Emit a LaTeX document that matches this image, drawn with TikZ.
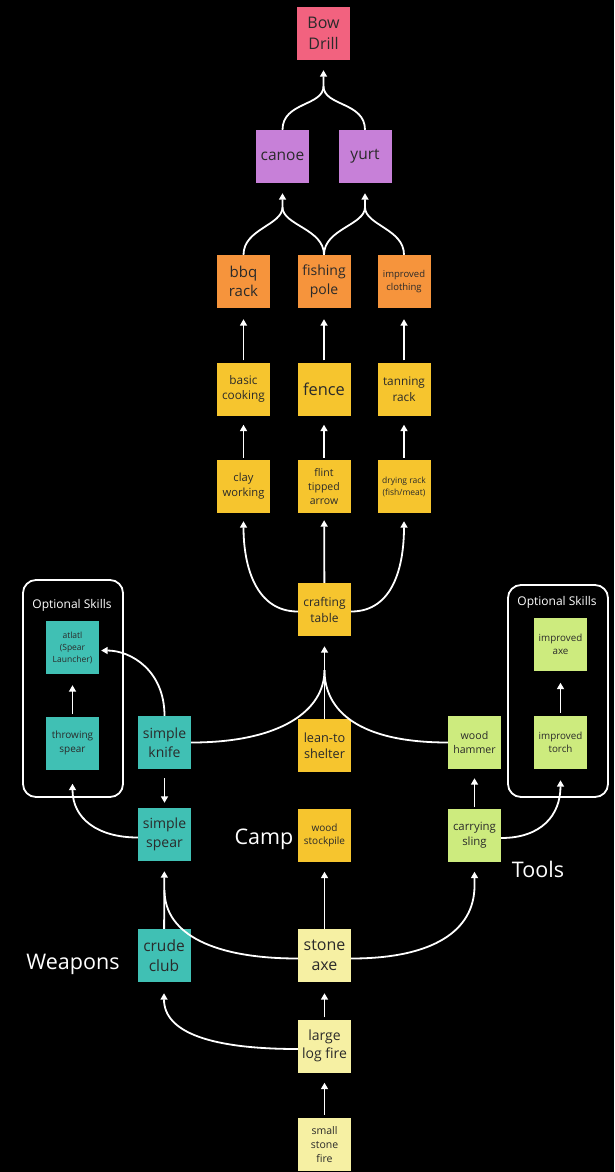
\documentclass[tikz,border=0pt]{standalone}
\usepackage{fontspec}
\setmainfont{Open Sans}
\usetikzlibrary{arrows.meta}
\definecolor{cbow}{HTML}{F2627F}
\definecolor{cpur}{HTML}{C780D8}
\definecolor{corg}{HTML}{F6943C}
\definecolor{cyel}{HTML}{F6C52E}
\definecolor{cteal}{HTML}{40C0B4}
\definecolor{clime}{HTML}{CDEB7E}
\definecolor{cpale}{HTML}{F6F0A3}
\definecolor{ctxt}{HTML}{2A2A2A}
\newcommand{\fsz}[2]{\fontsize{#1}{#2}\selectfont}
\begin{document}
\begin{tikzpicture}[x=1pt,y=-1pt,
  box/.style={minimum width=53pt, minimum height=53pt, inner sep=1pt, align=center, text=ctxt},
  arr/.style={draw=white, line width=1.8pt, -{Triangle[length=6.5pt,width=7pt]}},
  ln/.style={draw=white, line width=1.8pt},
  lbl/.style={text=white, font=\fsz{21.5}{25}},
  optbox/.style={draw=white, line width=1.8pt, rounded corners=13pt, minimum width=100pt},
  optlbl/.style={text=white, font=\fsz{12}{14}},
]
\fill[black] (0,0) rectangle (614,1172);
\useasboundingbox (0,0) rectangle (614,1172);

% optional skill frames
\node[optbox, minimum height=217pt] (optL) at (73,688.5) {};
\node[optbox, minimum height=212pt] (optR) at (558,691) {};
\node[optlbl] (optLl) at (72,605) {Optional Skills};
\node[optlbl] (optRl) at (557,602) {Optional Skills};

% nodes
\node[box, fill=cbow, font=\fsz{16}{21}] (bow) at (323.5,33.5) {Bow\\Drill};
\node[box, fill=cpur, font=\fsz{15.5}{20}] (canoe) at (282.5,156.5) {canoe};
\node[box, fill=cpur, font=\fsz{15.5}{20}] (yurt) at (365,156.5) {yurt};

\node[box, fill=corg, font=\fsz{15}{19}] (bbq) at (243.5,281.5) {bbq\\rack};
\node[box, fill=corg, font=\fsz{14}{18.5}] (fish) at (324,281.5) {fishing\\pole};
\node[box, fill=corg, font=\fsz{9.5}{13}] (cloth) at (404,281.5) {improved\\clothing};

\node[box, fill=cyel, font=\fsz{11.8}{15.5}] (cook) at (243.5,389) {basic\\cooking};
\node[box, fill=cyel, font=\fsz{16.4}{20}] (fence) at (324,389) {fence};
\node[box, fill=cyel, font=\fsz{11.8}{15.5}] (tan) at (404,389) {tanning\\rack};

\node[box, fill=cyel, font=\fsz{11.2}{15}] (clay) at (243.5,486.5) {clay\\working};
\node[box, fill=cyel, font=\fsz{10.5}{14}] (flint) at (324,486.5) {flint\\tipped\\arrow};
\node[box, fill=cyel, font=\fsz{8.5}{12}] (dry) at (404,486.5) {drying rack\\(fish/meat)};

\node[box, fill=cyel, font=\fsz{12}{16}] (craft) at (324.5,609.5) {crafting\\table};
\node[box, fill=cyel, font=\fsz{12.7}{16.5}] (lean) at (324.5,745.5) {lean-to\\shelter};
\node[box, fill=cyel, font=\fsz{10}{13}] (stock) at (324.5,835) {wood\\stockpile};

\node[box, fill=cteal, font=\fsz{8.5}{12}] (atl) at (72.5,647.5) {atlatl\\(Spear\\Launcher)};
\node[box, fill=cteal, font=\fsz{10}{13.5}] (throw) at (72.5,743) {throwing\\spear};
\node[box, fill=cteal, font=\fsz{14}{18.5}] (knife) at (164.5,742.5) {simple\\knife};
\node[box, fill=cteal, font=\fsz{14}{18.5}] (spear) at (164.5,834.5) {simple\\spear};
\node[box, fill=cteal, font=\fsz{15.5}{20}] (club) at (164,955.5) {crude\\club};

\node[box, fill=clime, font=\fsz{10.6}{14}] (hammer) at (474.5,742.5) {wood\\hammer};
\node[box, fill=clime, font=\fsz{11.4}{15}] (sling) at (474.5,835) {carrying\\sling};
\node[box, fill=clime, font=\fsz{9.8}{13}] (iaxe) at (560.5,644) {improved\\axe};
\node[box, fill=clime, font=\fsz{9.8}{13}] (itorch) at (560.5,742.5) {improved\\torch};

\node[box, fill=cpale, font=\fsz{16}{20.5}] (axe) at (324.5,955.5) {stone\\axe};
\node[box, fill=cpale, font=\fsz{14}{18}] (log) at (324.5,1046) {large\\log fire};
\node[box, fill=cpale, font=\fsz{10.5}{14}] (small) at (324.5,1144.5) {small\\stone\\fire};

% group labels
\node[lbl] (weap) at (73,964) {Weapons};
\node[lbl] (camp) at (264,839) {Camp};
\node[lbl] (tools) at (538,869) {Tools};

% top connectors
\draw[arr] (canoe.north) .. controls +(0,-28) and +(0,20) .. ([yshift=-26pt]bow.south) -- ([yshift=-10pt]bow.south);
\draw[ln] (yurt.north) .. controls +(0,-28) and +(0,20) .. ([yshift=-26pt]bow.south);

\draw[arr] (bbq.north) .. controls +(0,-26) and +(0,18) .. ([yshift=-24pt]canoe.south) -- ([yshift=-10pt]canoe.south);
\draw[ln] (fish.north) .. controls +(0,-26) and +(0,18) .. ([yshift=-24pt]canoe.south);
\draw[arr] (fish.north) .. controls +(0,-26) and +(0,18) .. ([yshift=-24pt]yurt.south) -- ([yshift=-10pt]yurt.south);
\draw[ln] (cloth.north) .. controls +(0,-26) and +(0,18) .. ([yshift=-24pt]yurt.south);

\draw[arr, shorten <=2pt, shorten >=11pt] (cook) -- (bbq);
\draw[arr, shorten <=2pt, shorten >=11pt] (fence) -- (fish);
\draw[arr, shorten <=2pt, shorten >=11pt] (tan) -- (cloth);
\draw[arr, shorten <=2pt, shorten >=9pt] (clay) -- (cook);
\draw[arr, shorten <=2pt, shorten >=9pt] (flint) -- (fence);
\draw[arr, shorten <=2pt, shorten >=9pt] (dry) -- (tan);

% crafting table
\draw[arr] ([yshift=-2pt]craft.west) .. controls +(-42,0) and +(0,45) .. ([yshift=-8pt]clay.south);
\draw[arr, shorten >=7pt] (craft) -- (flint);
\draw[arr] ([yshift=-2pt]craft.east) .. controls +(42,0) and +(0,45) .. ([yshift=-8pt]dry.south);

\draw[arr, shorten >=10pt] (lean) -- (craft);
\draw[ln] (knife.east) .. controls +(90,0) and +(0,40) .. ([yshift=-34pt]craft.south);
\draw[ln] (hammer.west) .. controls +(-90,0) and +(0,40) .. ([yshift=-34pt]craft.south);

% weapons
\draw[arr] (knife.north) .. controls +(0,-45) and +(30,0) .. ([shift={(2pt,-3pt)}]atl.east);
\draw[arr, shorten <=9pt, shorten >=5pt] (knife) -- (spear);
\draw[arr] ([yshift=-3pt]spear.west) .. controls +(-40,0) and +(0,35) .. ([yshift=-14pt]throw.south);
\draw[arr, shorten <=2pt, shorten >=11pt] (throw) -- (atl);
\draw[arr, shorten >=10pt] (club) -- (spear);
\draw[ln] ([yshift=-3pt]axe.west) .. controls +(-82,0) and +(0,45) .. ([yshift=-29pt]spear.south);

% tools
\draw[arr] ([yshift=-3pt]axe.east) .. controls +(82,0) and +(0,45) .. ([yshift=-24pt]sling.south) -- ([yshift=-10pt]sling.south);
\draw[arr, shorten <=1pt, shorten >=9pt] (sling) -- (hammer);
\draw[arr] ([yshift=-3pt]sling.east) .. controls +(40,0) and +(0,35) .. ([yshift=-11pt]itorch.south);
\draw[arr, shorten <=3pt, shorten >=12pt] (itorch) -- (iaxe);

% camp & fire
\draw[arr, shorten >=10pt] (axe) -- (stock);
\draw[arr] ([yshift=-3pt]log.west) .. controls +(-85,0) and +(0,40) .. ([yshift=-11pt]club.south);
\draw[arr, shorten <=2pt, shorten >=11pt] (log) -- (axe);
\draw[arr, shorten <=3pt, shorten >=10pt] (small) -- (log);
\end{tikzpicture}
\end{document}
